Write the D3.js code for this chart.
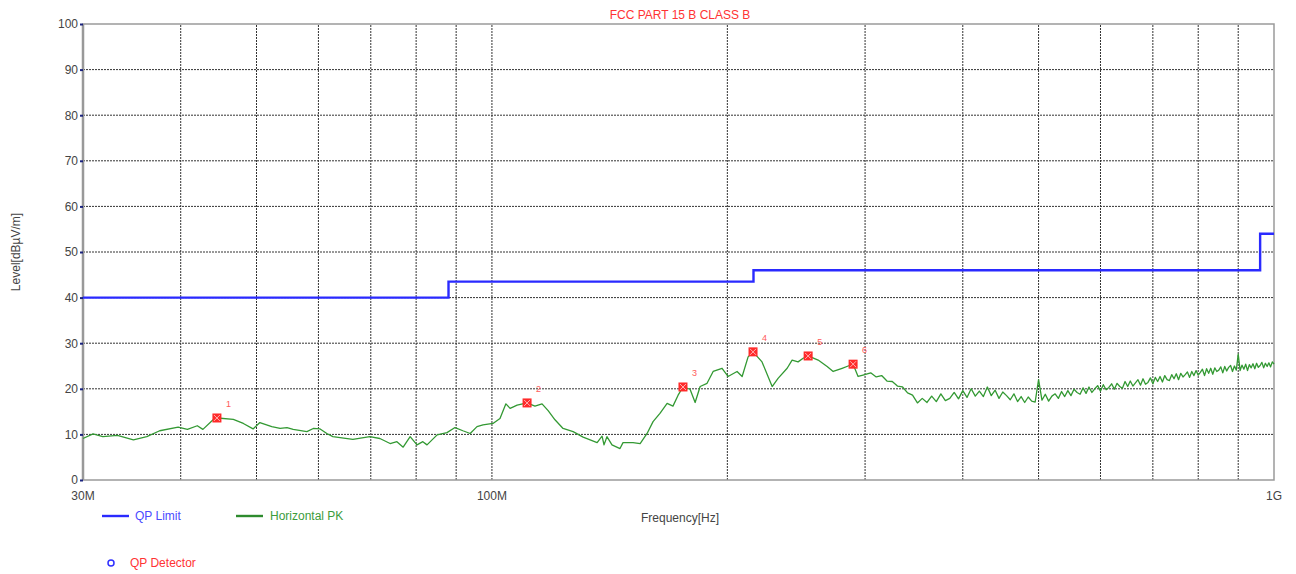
<!DOCTYPE html>
<html>
<head>
<meta charset="utf-8">
<script src="https://cdn.jsdelivr.net/npm/d3@7"></script>
<style>
  body { margin: 0; background: #fff; }
  text { font-family: "Liberation Sans", Arial, sans-serif; }
</style>
</head>
<body>
<div id="container"></div>
<script>
// frequencies in MHz, levels in dBuV/m
const gridFreqs = [40, 50, 60, 70, 80, 90, 100, 200, 300, 400, 500, 600, 700, 800, 900];
const xLabelFreqs = [30, 100, 1000];
const xLabels = ['30M', '100M', '1G'];
const yTicks = [0, 10, 20, 30, 40, 50, 60, 70, 80, 90, 100];

const limitFreq = [30, 88, 216, 960, 1000];
const limitLevel = [40, 43.5, 46, 54, 54];

const pkFreq = [
  30.0, 30.9, 31.8, 33.2, 34.8, 36.2, 37.6, 39.7, 40.8, 42.0, 42.7, 44.0, 44.6, 46.7, 48.1, 49.5,
  50.5, 52.3, 53.6, 54.7, 55.7, 58.0, 59.1, 60.3, 61.5, 62.6, 66.4, 69.8, 71.9, 74.1, 75.6, 77.0,
  78.6, 80.2, 81.6, 82.6, 85.1, 87.6, 89.7, 91.8, 93.8, 95.7, 97.4, 100.3, 102.4, 104.2, 105.5, 107.7,
  110.9, 113.5, 115.9, 118.0, 120.4, 123.3, 127.0, 130.8, 136.3, 138.3, 139.1, 140.3, 142.4, 145.8, 147.1, 151.5,
  154.7, 157.9, 160.7, 164.0, 167.5, 170.4, 173.0, 175.5, 179.2, 181.9, 184.6, 188.4, 191.8, 196.9, 200.4, 205.8,
  208.9, 212.6, 215.7, 221.5, 228.2, 232.2, 238.5, 242.0, 246.3, 250.0, 253.7, 261.3, 268.3, 273.1, 280.4, 285.4,
  289.6, 293.9, 298.2,
  305, 310, 315, 320, 325, 330, 335, 340, 345, 350, 355, 360, 365, 370, 375, 380, 385, 390, 395, 400,
  405, 410, 415, 420, 425, 430, 435, 440, 445, 450, 455, 460, 465, 470, 475, 480, 485, 490, 495, 500,
  505, 510, 515, 520, 525, 530, 535, 540, 545, 550, 555, 560, 565, 570, 575, 580, 585, 590, 595, 600,
  605, 610, 615, 620, 625, 630, 635, 640, 645, 650, 655, 660, 665, 670, 675, 680, 685, 690, 695, 700,
  705, 710, 715, 720, 725, 730, 735, 740, 745, 750, 755, 760, 765, 770, 775, 780, 785, 790, 795, 800,
  805, 810, 815, 820, 825, 830, 835, 840, 845, 850, 855, 860, 865, 870, 875, 880, 885, 890, 895, 900,
  905, 910, 915, 920, 925, 930, 935, 940, 945, 950, 955, 960, 965, 970, 975, 980, 985, 990, 995, 1000
];
const pkLevel = [
  9.1, 10.1, 9.5, 9.8, 8.8, 9.5, 10.8, 11.6, 11.1, 11.9, 11.1, 13.2, 13.6, 13.3, 12.4, 11.2,
  12.6, 11.7, 11.3, 11.5, 11.1, 10.6, 11.3, 11.2, 10.2, 9.5, 8.9, 9.5, 9.1, 8.0, 8.4, 7.2,
  9.5, 7.7, 8.4, 7.7, 9.9, 10.4, 11.5, 10.8, 10.2, 11.7, 12.1, 12.4, 13.5, 16.7, 15.7, 16.4,
  16.9, 16.2, 16.7, 15.2, 13.2, 11.3, 10.6, 9.4, 8.2, 9.6, 7.7, 9.5, 7.7, 6.9, 8.2, 8.2,
  8.0, 10.2, 12.8, 14.6, 16.8, 16.2, 18.6, 20.4, 19.9, 17.0, 20.5, 21.2, 23.8, 24.5, 22.7, 23.8,
  22.7, 27.0, 28.1, 25.9, 20.5, 22.3, 24.5, 26.3, 25.9, 26.7, 27.2, 26.3, 24.9, 23.8, 24.5, 25.0,
  25.4, 22.7, 23.0,
  23.5, 22.6, 22.9, 21.7, 21.6, 20.6, 20.4, 19.1, 18.6, 16.9, 17.9, 17.0, 18.4, 17.2, 18.9, 17.4, 17.9, 19.2, 17.8, 19.6,
  18.1, 20.0, 18.4, 19.5, 18.3, 20.4, 18.5, 19.7, 17.9, 19.3, 18.5, 17.6, 18.9, 17.2, 18.3, 17.0, 18.2, 17.3, 17.1, 22.0,
  17.5, 18.8, 17.3, 18.4, 18.9, 17.9, 19.4, 18.3, 19.6, 18.5, 19.9, 19.2, 18.8, 20.2, 19.0, 20.4, 19.2, 20.0, 20.7, 19.5,
  20.9, 19.8, 20.3, 21.1, 19.9, 21.2, 20.5, 20.1, 21.6, 20.5, 21.7, 20.6, 21.3, 22.0, 20.8, 22.2, 21.0, 21.4, 22.4, 21.1,
  22.5, 21.6, 22.7, 21.5, 22.9, 22.0, 21.8, 23.1, 22.2, 23.3, 22.0, 23.4, 22.6, 23.1, 23.7, 22.5, 23.8, 22.9, 24.0, 23.0,
  23.6, 24.3, 22.9, 24.4, 23.4, 24.5, 23.2, 24.6, 23.8, 24.1, 24.8, 23.5, 24.9, 23.9, 24.7, 25.1, 23.8, 25.0, 24.1, 27.6,
  24.0, 25.2, 24.3, 25.4, 24.0, 25.3, 24.6, 25.5, 24.4, 25.6, 24.7, 25.1, 25.8, 24.6, 25.6, 24.9, 25.7, 24.8, 25.9, 25.4
];

const markerFreq = [44.5, 110.9, 175.5, 215.7, 253.7, 289.6];
const markerLevel = [13.6, 16.9, 20.4, 28.1, 27.2, 25.4];
const markerNames = ['1', '2', '3', '4', '5', '6'];

const width = 1296, height = 574;
const margin = { top: 24, right: 22, bottom: 94, left: 83 };

const xScale = d3.scaleLog()
  .domain([30, 1000])
  .range([margin.left, width - margin.right]);
const yScale = d3.scaleLinear()
  .domain([0, 100])
  .range([height - margin.bottom, margin.top]);

const svg = d3.select('#container')
  .append('svg')
  .attr('width', width)
  .attr('height', height);

// grid
svg.append('g')
  .selectAll('line')
  .data(yTicks.slice(1, -1))
  .join('line')
  .attr('x1', xScale(30)).attr('x2', xScale(1000))
  .attr('y1', d => yScale(d)).attr('y2', d => yScale(d))
  .attr('stroke', '#333').attr('stroke-width', 1)
  .attr('stroke-dasharray', '2,1');
svg.append('g')
  .selectAll('line')
  .data(gridFreqs)
  .join('line')
  .attr('x1', d => xScale(d)).attr('x2', d => xScale(d))
  .attr('y1', yScale(0)).attr('y2', yScale(100))
  .attr('stroke', '#333').attr('stroke-width', 1)
  .attr('stroke-dasharray', '2,1');

// frame
svg.append('rect')
  .attr('x', xScale(30)).attr('y', yScale(100))
  .attr('width', xScale(1000) - xScale(30))
  .attr('height', yScale(0) - yScale(100))
  .attr('fill', 'none').attr('stroke', '#9a9a9a').attr('stroke-width', 1.5);
svg.append('line')
  .attr('x1', xScale(30)).attr('x2', xScale(30))
  .attr('y1', yScale(0)).attr('y2', yScale(100))
  .attr('stroke', '#999').attr('stroke-width', 2.5);

// y axis labels
const yAxis = svg.append('g')
  .attr('transform', `translate(${xScale(30)},0)`)
  .call(d3.axisLeft(yScale).tickValues(yTicks).tickSize(3).tickPadding(2));
yAxis.select('.domain').remove();
yAxis.selectAll('.tick line').attr('stroke', '#1a237e').attr('stroke-width', 2);
yAxis.selectAll('.tick text')
  .attr('fill', '#444').attr('font-size', 12)
  .style('font-family', '"Liberation Sans", Arial, sans-serif');

// x axis labels
svg.append('g')
  .selectAll('text')
  .data(xLabelFreqs)
  .join('text')
  .attr('x', d => xScale(d))
  .attr('y', yScale(0) + 20)
  .attr('text-anchor', 'middle')
  .attr('font-size', 12).attr('fill', '#444')
  .text((d, i) => xLabels[i]);

// titles
svg.append('text')
  .attr('x', 680).attr('y', 19)
  .attr('text-anchor', 'middle')
  .attr('font-size', 12).attr('fill', '#ff3333')
  .text('FCC PART 15 B CLASS B');
svg.append('text')
  .attr('x', 680).attr('y', 522)
  .attr('text-anchor', 'middle')
  .attr('font-size', 12).attr('fill', '#444')
  .text('Frequency[Hz]');
svg.append('text')
  .attr('transform', `translate(20,252) rotate(-90)`)
  .attr('text-anchor', 'middle')
  .attr('font-size', 12).attr('fill', '#444')
  .text('Level[dBµV/m]');

// limit line
const limitLine = d3.line()
  .x(d => xScale(d[0]))
  .y(d => yScale(d[1]))
  .curve(d3.curveStepAfter);
svg.append('path')
  .datum(limitFreq.map((f, i) => [f, limitLevel[i]]))
  .attr('fill', 'none')
  .attr('stroke', '#2a2aff')
  .attr('stroke-width', 2.4)
  .attr('d', limitLine);

// peak trace
const traceLine = d3.line()
  .x(d => xScale(d[0]))
  .y(d => yScale(d[1]));
svg.append('path')
  .datum(pkFreq.map((f, i) => [f, pkLevel[i]]))
  .attr('fill', 'none')
  .attr('stroke', '#339933')
  .attr('stroke-width', 1.3)
  .attr('stroke-linejoin', 'round')
  .attr('d', traceLine);

// markers
const marks = svg.append('g')
  .selectAll('g')
  .data(markerFreq.map((f, i) => ({ f, v: markerLevel[i], n: markerNames[i] })))
  .join('g')
  .attr('transform', d => `translate(${xScale(d.f)},${yScale(d.v)})`);
marks.append('rect')
  .attr('x', -4.5).attr('y', -4.5).attr('width', 9).attr('height', 9)
  .attr('fill', '#ff2a2a');
marks.append('path')
  .attr('d', 'M-3,-3L3,3M3,-3L-3,3')
  .attr('stroke', '#ffb0b0').attr('stroke-width', 1);
marks.append('text')
  .attr('x', 9).attr('y', -11)
  .attr('font-size', 9).attr('fill', '#ff5a5a')
  .text(d => d.n);

// legend
const legend = svg.append('g');
legend.append('line')
  .attr('x1', 102).attr('x2', 129).attr('y1', 516).attr('y2', 516)
  .attr('stroke', '#2a2aff').attr('stroke-width', 2.4);
legend.append('text')
  .attr('x', 135).attr('y', 520)
  .attr('font-size', 12).attr('fill', '#4a4aff')
  .text('QP Limit');
legend.append('line')
  .attr('x1', 236).attr('x2', 263).attr('y1', 516).attr('y2', 516)
  .attr('stroke', '#2e8b2e').attr('stroke-width', 2.4);
legend.append('text')
  .attr('x', 270).attr('y', 520)
  .attr('font-size', 12).attr('fill', '#3c9c3c')
  .text('Horizontal PK');
legend.append('circle')
  .attr('cx', 111).attr('cy', 563).attr('r', 3)
  .attr('fill', 'none').attr('stroke', '#3030ff').attr('stroke-width', 1.5);
legend.append('text')
  .attr('x', 130).attr('y', 567)
  .attr('font-size', 12).attr('fill', '#ff3333')
  .text('QP Detector');
</script>
</body>
</html>
